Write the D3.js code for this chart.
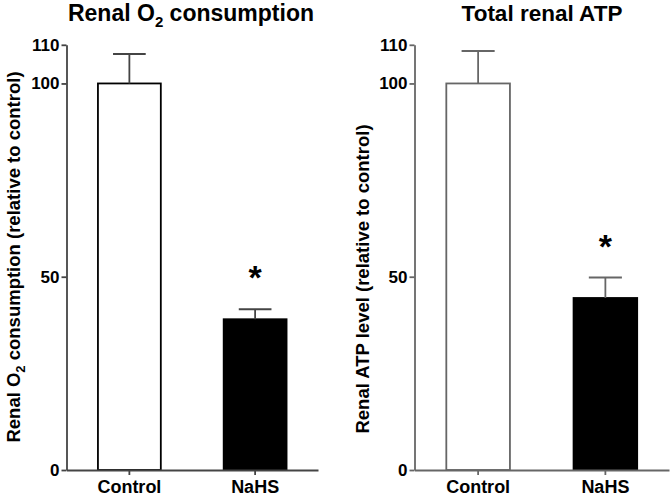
<!DOCTYPE html>
<html><head><meta charset="utf-8">
<script src="https://cdn.jsdelivr.net/npm/d3@7"></script>
<style>body{margin:0;background:#fff}svg{display:block}</style>
</head><body>
<svg id="c" width="670" height="498"></svg>
<script>
const categories = ["Control", "NaHS"];
const o2Means = [100, 39];
const o2Errors = [7.6, 2.6];
const atpMeans = [100, 44.5];
const atpErrors = [8.4, 5.3];
const yTicks = [0, 50, 100, 110];
const significance = ["", "*"];

const svg = d3.select("#c");
const font = "'Liberation Sans', Arial, Helvetica, sans-serif";

function panel(opts) {
  const g = svg.append("g");
  const y = d3.scaleLinear().domain([0, 110]).range([470, 44.8]);
  const x = d3.scaleBand().domain(categories).range([opts.x0, opts.x1]).paddingInner(0.5).paddingOuter(0.25);
  const col = opts.lineColor;
  g.selectAll("rect.bar").data(categories).enter().append("rect")
    .attr("x", d => x(d)).attr("width", x.bandwidth())
    .attr("y", (d, i) => y(opts.means[i]))
    .attr("height", (d, i) => y(0) - y(opts.means[i]))
    .attr("fill", (d, i) => i === 0 ? "#fff" : "#000")
    .attr("stroke", (d, i) => i === 0 ? opts.barStroke : "#000")
    .attr("stroke-width", 1.8);
  const eb = g.selectAll("g.eb").data(categories).enter().append("g");
  eb.append("line")
    .attr("x1", d => x(d) + x.bandwidth() / 2).attr("x2", d => x(d) + x.bandwidth() / 2)
    .attr("y1", (d, i) => y(opts.means[i])).attr("y2", (d, i) => y(opts.means[i] + opts.errs[i]))
    .attr("stroke", col).attr("stroke-width", 1.8);
  eb.append("line")
    .attr("x1", d => x(d) + x.bandwidth() * 0.24).attr("x2", d => x(d) + x.bandwidth() * 0.76)
    .attr("y1", (d, i) => y(opts.means[i] + opts.errs[i])).attr("y2", (d, i) => y(opts.means[i] + opts.errs[i]))
    .attr("stroke", col).attr("stroke-width", 2);
  g.selectAll("text.sig").data(categories).enter().append("text")
    .attr("x", d => x(d) + x.bandwidth() / 2)
    .attr("y", (d, i) => y(opts.means[i] + opts.errs[i]) - 20)
    .attr("text-anchor", "middle")
    .attr("font-family", font).attr("font-weight", "bold").attr("font-size", 34)
    .text((d, i) => significance[i]);
  const ya = g.append("g").attr("transform", `translate(${opts.x0},0)`)
    .call(d3.axisLeft(y).tickValues(yTicks).tickSize(5).tickSizeOuter(0).tickPadding(2));
  ya.select(".domain").attr("stroke", col).attr("stroke-width", 1.8);
  ya.selectAll(".tick line").attr("stroke", col).attr("stroke-width", 1.8);
  ya.selectAll(".tick text").attr("font-family", font).attr("font-weight", "bold").attr("font-size", 17).attr("fill", "#000");
  const xa = g.append("g").attr("transform", `translate(0,${y(0)})`)
    .call(d3.axisBottom(x).tickSize(5).tickSizeOuter(0).tickPadding(5));
  xa.select(".domain").attr("stroke", col).attr("stroke-width", 1.8);
  xa.selectAll(".tick line").attr("stroke", col).attr("stroke-width", 1.8);
  xa.selectAll(".tick text").attr("font-family", font).attr("font-weight", "bold").attr("font-size", 18).attr("fill", "#000");
  const t = g.append("text").attr("x", opts.titleX).attr("y", 21)
    .attr("text-anchor", "middle").attr("font-family", font).attr("font-weight", "bold").attr("font-size", opts.titleSize);
  opts.title(t);
  const yl = g.append("text").attr("transform", `translate(${opts.ylX},${opts.ylY}) rotate(-90)`)
    .attr("text-anchor", "middle").attr("font-family", font).attr("font-weight", "bold").attr("font-size", opts.ylSize);
  opts.ylabel(yl);
}

panel({
  x0: 66.5, x1: 318, means: o2Means, errs: o2Errors, lineColor: "#444", barStroke: "#000",
  titleX: 191, titleSize: 23, ylX: 20, ylY: 257, ylSize: 18.5,
  title: t => { t.append("tspan").text("Renal O"); t.append("tspan").attr("font-size", 15).attr("dy", 6).text("2"); t.append("tspan").attr("dy", -6).text(" consumption"); },
  ylabel: t => { t.append("tspan").text("Renal O"); t.append("tspan").attr("font-size", 13).attr("dy", 5).text("2"); t.append("tspan").attr("dy", -5).text(" consumption (relative to control)"); }
});
panel({
  x0: 414.5, x1: 669, means: atpMeans, errs: atpErrors, lineColor: "#666", barStroke: "#666",
  titleX: 542, titleSize: 22.5, ylX: 369, ylY: 279, ylSize: 18.5,
  title: t => t.text("Total renal ATP"),
  ylabel: t => t.text("Renal ATP level (relative to control)")
});
</script>
</body></html>
